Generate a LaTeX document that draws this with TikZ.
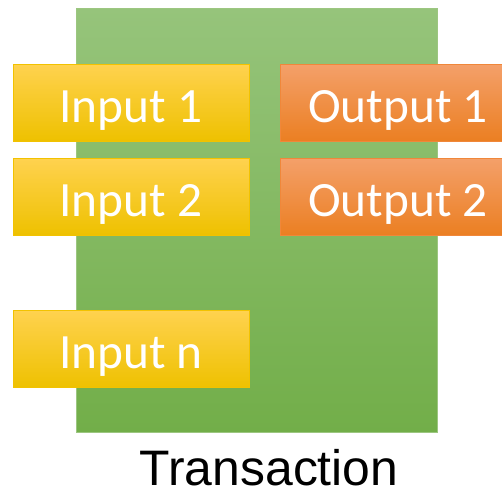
\documentclass[tikz,border=0pt]{standalone}
\usepackage{fontspec}
\setmainfont{Liberation Sans}
\newfontfamily\boxfont{Carlito}
\definecolor{txgreentop}{HTML}{96C47B}
\definecolor{txgreenbot}{HTML}{72AE49}
\definecolor{inyellowtop}{HTML}{FFD24F}
\definecolor{inyellowmid}{HTML}{FFCC00}
\definecolor{inyellowbot}{HTML}{EEC100}
\definecolor{inyellowline}{HTML}{F2C200}
\definecolor{outorangetop}{HTML}{F4A06A}
\definecolor{outorangemid}{HTML}{F79233}
\definecolor{outorangebot}{HTML}{EB7F22}
\definecolor{outorangeline}{HTML}{F0873A}
\tikzset{
  txbox/.style={top color=txgreentop, bottom color=txgreenbot, draw=txgreenbot!70!white,
    line width=0.5pt, minimum width=270.75pt, minimum height=318pt, inner sep=0pt},
  inbox/.style={top color=inyellowtop, middle color=inyellowmid, bottom color=inyellowbot,
    draw=inyellowline, line width=0.6pt, minimum width=177pt, minimum height=57.75pt,
    inner sep=0pt, text height=29.25pt, text depth=0pt,
    text=white, font=\boxfont\fontsize{37}{42}\selectfont},
  outbox/.style={inbox, top color=outorangetop, middle color=outorangemid,
    bottom color=outorangebot, draw=outorangeline}
}
\begin{document}
\begin{tikzpicture}[x=0.75pt,y=-0.75pt]
  \useasboundingbox (0,0) rectangle (502,490);
  \clip (0,0) rectangle (502,490);
  % transaction body
  \node[txbox] (tx) at (256.5,220) {};
  % inputs
  \node[inbox] (in1) at (131,102.5) {Input 1};
  \node[inbox] (in2) at (131,196.5) {Input 2};
  \node[inbox] (inn) at (131,349) {Input n};
  % outputs
  \node[outbox] (out1) at (398,102.5) {Output 1};
  \node[outbox] (out2) at (398,196.5) {Output 2};
  \node[anchor=base, font=\fontsize{37.4}{42}\selectfont] (txlabel) at (269,485.5) {Transaction};
\end{tikzpicture}
\end{document}
